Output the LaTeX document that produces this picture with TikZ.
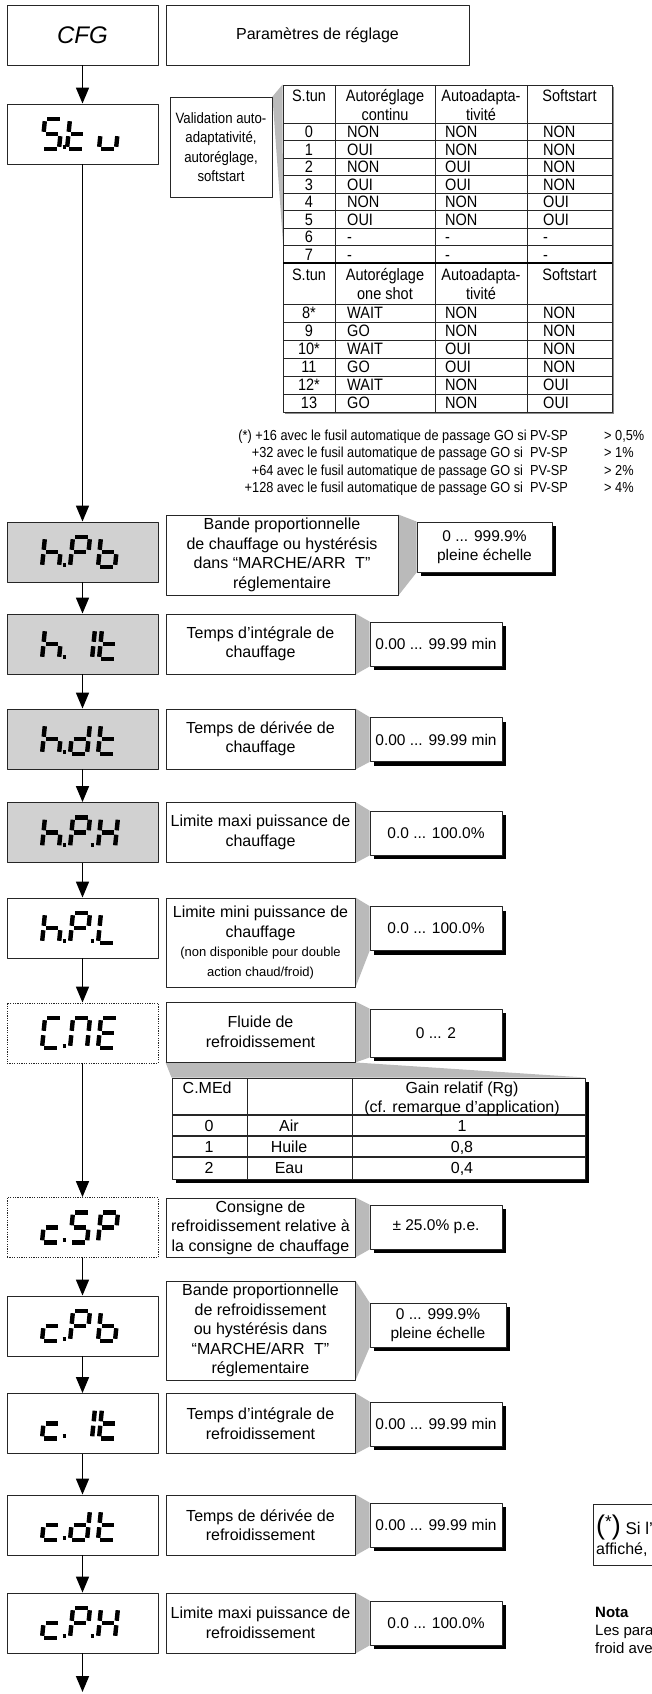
\documentclass[tikz,border=0pt]{standalone}
\usepackage{fontspec}
\setmainfont{Liberation Sans}
\newfontfamily\condensed[FakeStretch=0.88]{Liberation Sans}
\usetikzlibrary{arrows.meta,shadows,backgrounds}

% segments of a slanted seven-segment digit (w=17, h=30)
\def\sega{(5.2,-30) -- (17.8,-30)}
\def\segb{(19.78,-27.8) -- (18.72,-17.2)}
\def\segc{(18.28,-12.8) -- (17.22,-2.2)}
\def\segd{(2.2,0) -- (14.8,0)}
\def\sege{(0.22,-2.2) -- (1.28,-12.8)}
\def\segf{(1.72,-17.2) -- (2.78,-27.8)}
\def\segg{(3.7,-15) -- (16.3,-15)}
\def\segp{(20.5,-2.3) -- (24,-2.3)}
\newcommand{\segchar}[3]{%
  \begin{scope}[shift={(#1,#2)}]
    \foreach \s in {#3}{\edef\segpath{\noexpand\draw[segline] \csname seg\s\endcsname;}\segpath}
  \end{scope}}

\begin{document}
\begin{tikzpicture}[x=1pt, y=-1pt, line join=round,
  every node/.style={inner sep=0pt},
  boxline/.style={draw=black!85, line width=0.9pt},
  dispbox/.style={boxline, fill=white, minimum width=151pt, minimum height=60pt},
  dispgray/.style={dispbox, fill=black!18},
  dispdot/.style={dispbox, dash pattern=on 1.2pt off 1.2pt},
  descbox/.style={boxline, fill=white, align=center, minimum width=189pt, minimum height=60pt, font=\fontsize{16}{19.5}\selectfont},
  valbox/.style={boxline, fill=white, align=center, minimum width=132pt, minimum height=44pt, font=\fontsize{15.5}{19}\selectfont,
    drop shadow={shadow xshift=4pt, shadow yshift=-4pt, fill=black, opacity=1}},
  wedgefill/.style={fill=black!27},
  flowarrow/.style={line width=1.6pt, -{Triangle[width=13pt,length=16pt]}},
  segline/.style={line width=4.4pt},
  tabtext/.style={font=\condensed\fontsize{16.5}{17}\selectfont},
  fluidtext/.style={font=\fontsize{16}{19}\selectfont},
  tabrule/.style={line width=0.8pt, draw=black!85},
  notetext/.style={font=\condensed\fontsize{14.5}{17}\selectfont}]

\useasboundingbox (0,0) rectangle (651,1694);

% title row
\node[dispbox] (cfg) at (82.5,35) {\fontsize{24}{24}\selectfont\itshape CFG};
\node[descbox, minimum width=303pt] (param) at (317.5,35) {Paramètres de réglage};

% display column
\node[dispbox] (stu) at (82.5,134) {};
\node[dispgray] (hpb) at (82.5,552) {};
\node[dispgray] (hit) at (82.5,644) {};
\node[dispgray] (hdt) at (82.5,739) {};
\node[dispgray] (hph) at (82.5,832.5) {};
\node[dispbox] (hpl) at (82.5,928) {};
\node[dispdot] (cme) at (82.5,1033) {};
\node[dispdot] (csp) at (82.5,1227.5) {};
\node[dispbox] (cpb) at (82.5,1326) {};
\node[dispbox] (cit) at (82.5,1423.5) {};
\node[dispbox] (cdt) at (82.5,1525) {};
\node[dispbox] (cph) at (82.5,1623) {};
\coordinate (bottom) at (82.5,1692);

\foreach \a/\b in {cfg/stu, stu/hpb, hpb/hit, hit/hdt, hdt/hph, hph/hpl, hpl/cme,
  cme/csp, csp/cpb, cpb/cit, cit/cdt, cdt/cph, cph/bottom}
  \draw[flowarrow] (\a) -- (\b);

% seven-segment texts
\segchar{42}{149}{a,f,g,c,d,p} \segchar{67}{149}{f,e,g,d} \segchar{99}{149}{e,d,c}
\segchar{42}{567}{f,e,g,c,p} \segchar{70}{567}{a,b,f,g,e} \segchar{98}{567}{f,e,g,c,d}
\segchar{42}{659}{f,e,g,c,p} \segchar{75}{659}{b,c} \segchar{99}{659}{f,e,g,d}
\segchar{42}{754}{f,e,g,c,p} \segchar{70}{754}{b,c,g,e,d} \segchar{98}{754}{f,e,g,d}
\segchar{42}{847.5}{f,e,g,c,p} \segchar{70}{847.5}{a,b,f,g,e,p} \segchar{98}{847.5}{b,c,e,f,g}
\segchar{42}{943}{f,e,g,c,p} \segchar{70}{943}{a,b,f,g,e,p} \segchar{98}{943}{f,e,d}
\segchar{42}{1048}{a,f,e,d,p} \segchar{70}{1048}{a,b,c,e,f} \segchar{98}{1048}{a,f,g,e,d}
\segchar{42}{1242.5}{g,e,d,p} \segchar{70}{1242.5}{a,f,g,c,d} \segchar{98}{1242.5}{a,b,f,g,e}
\segchar{42}{1341}{g,e,d,p} \segchar{70}{1341}{a,b,f,g,e} \segchar{98}{1341}{f,e,g,c,d}
\segchar{42}{1438.5}{g,e,d,p} \segchar{75}{1438.5}{b,c} \segchar{99}{1438.5}{f,e,g,d}
\segchar{42}{1540}{g,e,d,p} \segchar{70}{1540}{b,c,g,e,d} \segchar{98}{1540}{f,e,g,d}
\segchar{42}{1638}{g,e,d,p} \segchar{70}{1638}{a,b,f,g,e,p} \segchar{98}{1638}{b,c,e,f,g}

% S.tun table
\node[boxline, fill=white, align=center, minimum width=102pt, minimum height=100pt, font=\condensed\fontsize{15}{19.5}\selectfont] (valid) at (221,147)
  {Validation auto-\\adaptativité,\\autoréglage,\\softstart};
\node[boxline, fill=white, minimum width=329pt, minimum height=327pt,
  drop shadow={shadow xshift=2pt, shadow yshift=-2pt, fill=black!45, opacity=1}] (tuntab) at (447.5,248.5) {};
\coordinate (tunw) at (283,243);
\foreach \x in {335,435,527} \draw[tabrule] (\x,85) -- (\x,412);
\foreach \i in {0,...,7} \draw[tabrule] (283,{123+17.5*\i}) -- (612,{123+17.5*\i});
\draw[line width=2.5pt] (283,263) -- (612,263);
\foreach \i in {0,...,5} \draw[tabrule] (283,{304+18*\i}) -- (612,{304+18*\i});
\foreach \y/\w [count=\k] in {101.6/continu, 280/one shot}{
  \node[tabtext, anchor=base] (stun\k) at (309,\y) {S.tun};
  \node[tabtext, anchor=base] (autoa\k) at (385,\y) {Autoréglage};
  \node[tabtext, anchor=base] (autob\k) at (385,{\y+19}) {\w};
  \node[tabtext, anchor=base] (adapa\k) at (481,\y) {Autoadapta-};
  \node[tabtext, anchor=base] (adapb\k) at (481,{\y+19}) {tivité};
  \node[tabtext, anchor=base] (soft\k) at (569.5,\y) {Softstart};
}
\foreach \n/\a/\b/\c [count=\i from 0] in {0/NON/NON/NON, 1/OUI/NON/NON, 2/NON/OUI/NON, 3/OUI/OUI/NON,
  4/NON/NON/OUI, 5/OUI/NON/OUI, 6/-/-/-, 7/-/-/-}{
  \node[tabtext, anchor=base] (ra\i) at (309,{137.6+17.5*\i}) {\n};
  \node[tabtext, anchor=base west] (rb\i) at (347,{137.6+17.5*\i}) {\a};
  \node[tabtext, anchor=base west] (rc\i) at (445,{137.6+17.5*\i}) {\b};
  \node[tabtext, anchor=base west] (rd\i) at (543,{137.6+17.5*\i}) {\c};
}
\foreach \n/\a/\b/\c [count=\i from 0] in {8*/WAIT/NON/NON, 9/GO/NON/NON, 10*/WAIT/OUI/NON,
  11/GO/OUI/NON, 12*/WAIT/NON/OUI, 13/GO/NON/OUI}{
  \node[tabtext, anchor=base] (sa\i) at (309,{318.9+18*\i}) {\n};
  \node[tabtext, anchor=base west] (sb\i) at (347,{318.9+18*\i}) {\a};
  \node[tabtext, anchor=base west] (sc\i) at (445,{318.9+18*\i}) {\b};
  \node[tabtext, anchor=base west] (sd\i) at (543,{318.9+18*\i}) {\c};
}

% footnote of the table
\foreach \t/\v [count=\i from 0] in {{(*) +16 avec le fusil automatique de passage GO si PV-SP}/{> 0,5\%},
  {+32 avec le fusil automatique de passage GO si\ \ PV-SP}/{> 1\%},
  {+64 avec le fusil automatique de passage GO si\ \ PV-SP}/{> 2\%},
  {+128 avec le fusil automatique de passage GO si\ \ PV-SP}/{> 4\%}}{
  \node[notetext, anchor=base east] (fn\i) at (568,{440+17.5*\i}) {\t};
  \node[notetext, anchor=base west] (fv\i) at (604,{440+17.5*\i}) {\v};
}

% descriptions and ranges
\node[descbox, minimum width=232pt, minimum height=80pt] (hpb-txt) at (282,555)
  {Bande proportionnelle\\de chauffage ou hystérésis\\dans “MARCHE/ARR\hspace{0.6em}T”\\réglementaire};
\node[valbox, minimum width=135pt, minimum height=50pt] (hpb-val) at (484.5,547) {0 ... 999.9\%\\pleine échelle};
\node[descbox] (hit-txt) at (260.5,644) {Temps d’intégrale de\\chauffage};
\node[valbox] (hit-val) at (436,644) {0.00 ... 99.99 min};
\node[descbox] (hdt-txt) at (260.5,739) {Temps de dérivée de\\chauffage};
\node[valbox] (hdt-val) at (436,739.5) {0.00 ... 99.99 min};
\node[descbox] (hph-txt) at (260.5,832.5) {Limite maxi puissance de\\chauffage};
\node[valbox] (hph-val) at (436,833) {0.0 ... 100.0\%};
\node[descbox, minimum height=89pt] (hpl-txt) at (260.5,942.5)
  {Limite mini puissance de\\chauffage\\\fontsize{13}{17}\selectfont(non disponible pour double\\\fontsize{13}{17}\selectfont action chaud/froid)};
\node[valbox] (hpl-val) at (436,928.5) {0.0 ... 100.0\%};
\node[descbox] (cme-txt) at (260.5,1032) {Fluide de\\refroidissement};
\node[valbox, minimum height=48pt] (cme-val) at (436,1033) {0 ... 2};
\node[descbox, minimum height=59pt] (csp-txt) at (260.5,1227.5) {Consigne de\\refroidissement relative à\\la consigne de chauffage};
\node[valbox] (csp-val) at (436,1227) {± 25.0\% p.e.};
\node[descbox, minimum height=99pt] (cpb-txt) at (260.5,1330.5)
  {Bande proportionnelle\\de refroidissement\\ou hystérésis dans\\“MARCHE/ARR\hspace{0.6em}T”\\réglementaire};
\node[valbox, minimum width=136pt] (cpb-val) at (438,1325) {0 ... 999.9\%\\pleine échelle};
\node[descbox] (cit-txt) at (260.5,1423.5) {Temps d’intégrale de\\refroidissement};
\node[valbox] (cit-val) at (436,1424) {0.00 ... 99.99 min};
\node[descbox] (cdt-txt) at (260.5,1525) {Temps de dérivée de\\refroidissement};
\node[valbox] (cdt-val) at (436,1525) {0.00 ... 99.99 min};
\node[descbox] (cph-txt) at (260.5,1623) {Limite maxi puissance de\\refroidissement};
\node[valbox] (cph-val) at (436,1623) {0.0 ... 100.0\%};

% cooling fluid table
\node[boxline, fill=white, minimum width=413pt, minimum height=101pt,
  drop shadow={shadow xshift=4pt, shadow yshift=-4pt, fill=black, opacity=1}] (fluidtab) at (378.5,1128.5) {};
\foreach \x in {247,352} \draw[tabrule] (\x,1078) -- (\x,1179);
\foreach \y in {1115,1136,1157} \draw[tabrule, line width=1.3pt] (172,\y) -- (585,\y);
\node[fluidtext, anchor=base west] (cmed) at (182.5,1093.5) {C.MEd};
\node[fluidtext, anchor=base] (gain) at (462,1093.5) {Gain relatif (Rg)};
\node[fluidtext, anchor=base] (cfrem) at (462,1112.5) {(cf. remarque d’application)};
\foreach \n/\f/\g [count=\i from 0] in {0/Air/1, 1/Huile/{0,8}, 2/Eau/{0,4}}{
  \node[fluidtext, anchor=base] (fa\i) at (209,{1131+21*\i}) {\n};
  \node[fluidtext, anchor=base] (fb\i) at (289,{1131+21*\i}) {\f};
  \node[fluidtext, anchor=base] (fc\i) at (462,{1131+21*\i}) {\g};
}

% grey call-out wedges
\begin{scope}[on background layer]
  \fill[wedgefill] (valid.north east) -- (tuntab.north west) -- (tunw) -- cycle;
  \foreach \n in {hpb,hit,hdt,hph,hpl,cme,csp,cpb,cit,cdt,cph}
    \fill[wedgefill] (\n-txt.north east) -- (\n-val.north west) -- (\n-val.south west) -- (\n-txt.south east) -- cycle;
  \fill[wedgefill] (cme-txt.south west) -- (cme-txt.south east) -- (fluidtab.north east) -- (fluidtab.north west) -- cycle;
\end{scope}

% notes at the right border
\node[boxline, anchor=north west, minimum width=120pt, minimum height=61pt] (sibox) at (593,1504) {};
\node[anchor=base west, font=\fontsize{17}{18}\selectfont] (si) at (596,1534)
  {{\fontsize{27}{27}\selectfont(}\raisebox{7pt}{*}{\fontsize{27}{27}\selectfont)} Si l’};
\node[anchor=base west, font=\fontsize{16}{18}\selectfont] (affiche) at (596,1554) {affiché,};
\node[anchor=base west, font=\fontsize{15}{17}\selectfont\bfseries] (nota) at (595,1617) {Nota};
\node[anchor=base west, font=\fontsize{15}{17}\selectfont] (lespara) at (595,1635) {Les para};
\node[anchor=base west, font=\fontsize{15}{17}\selectfont] (froid) at (595,1653) {froid ave};
\end{tikzpicture}
\end{document}
